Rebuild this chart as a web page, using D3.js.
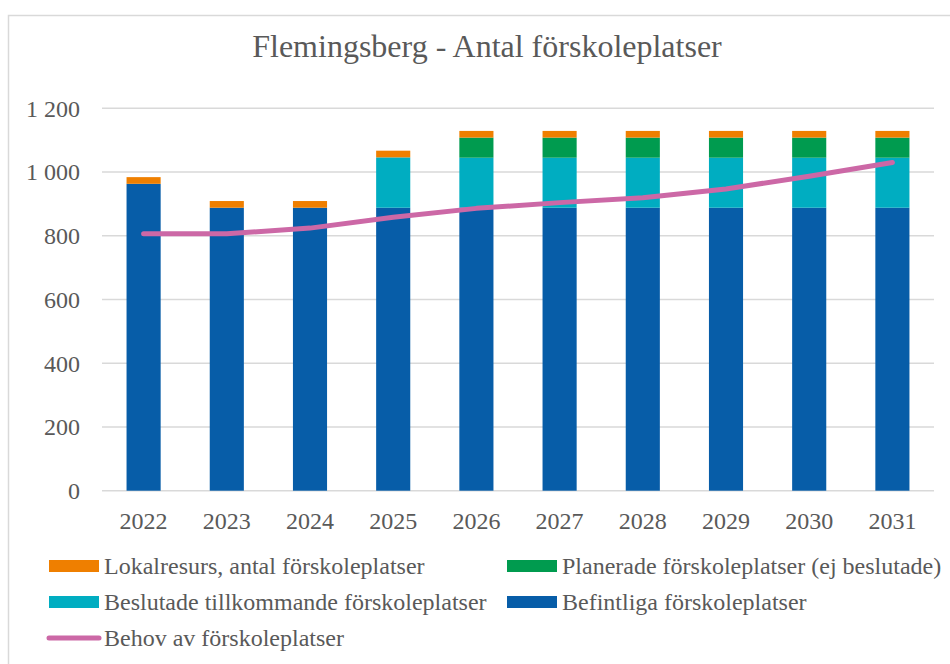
<!DOCTYPE html>
<html><head><meta charset="utf-8">
<script src="https://cdn.jsdelivr.net/npm/d3@7"></script>
<style>body{margin:0;background:#fff}svg{display:block}</style>
</head><body><svg id="c" width="950" height="664"></svg>
<script>
const years = ["2022","2023","2024","2025","2026","2027","2028","2029","2030","2031"];
const befintliga = [963, 888, 888, 888, 888, 888, 888, 888, 888, 888];
const beslutade = [0, 0, 0, 158, 157, 157, 157, 157, 157, 157];
const planerade = [0, 0, 0, 0, 63, 63, 63, 63, 63, 63];
const lokalresurs = [21, 21, 21, 21, 21, 21, 21, 21, 21, 21];
const behov = [806, 806, 824, 858, 886, 904, 919, 947, 987, 1030];
const yTicks = [0, 200, 400, 600, 800, 1000, 1200];

const seriesNames = ["Befintliga förskoleplatser","Beslutade tillkommande förskoleplatser","Planerade förskoleplatser (ej beslutade)","Lokalresurs, antal förskoleplatser"];
const seriesVals = [befintliga, beslutade, planerade, lokalresurs];
const colors = ["#075DA8","#00ADC1","#009B4F","#EF7F00"];
const lineColor = "#CC68A6";
const font = "'Liberation Serif','Times New Roman',serif";
const txt = "#595959";

const svg = d3.select("#c");
// frame
svg.append("rect").attr("x",8.5).attr("y",15.5).attr("width",960).attr("height",700)
  .attr("fill","#fff").attr("stroke","#d9d9d9").attr("stroke-width",1.5);

const x = d3.scaleBand().domain(years).range([102,934]).paddingInner(0.59).paddingOuter(0.295);
const y = d3.scaleLinear().domain([0,1200]).range([490.7,108.3]);

// gridlines
svg.append("g").selectAll("line").data(yTicks).join("line")
  .attr("x1",102).attr("x2",934).attr("y1",d=>y(d)).attr("y2",d=>y(d))
  .attr("stroke","#d9d9d9").attr("stroke-width",1.5);

// y labels
const fmt = d => d3.format(",")(d).replace(/,/g," ");
svg.append("g").selectAll("text").data(yTicks).join("text")
  .attr("x",80).attr("y",d=>y(d)).attr("dy","0.35em").attr("text-anchor","end")
  .attr("font-family",font).attr("font-size",24).attr("fill",txt).text(fmt);

// x labels
svg.append("g").selectAll("text").data(years).join("text")
  .attr("x",d=>x(d)+x.bandwidth()/2).attr("y",529).attr("text-anchor","middle")
  .attr("font-family",font).attr("font-size",24).attr("fill",txt).text(d=>d);

// stacked bars
const rows = years.map((yr,i)=>{const o={year:yr}; seriesNames.forEach((s,k)=>o[s]=seriesVals[k][i]); return o;});
const stack = d3.stack().keys(seriesNames)(rows);
svg.append("g").selectAll("g").data(stack).join("g").attr("fill",(d,i)=>colors[i])
  .selectAll("rect").data(d=>d).join("rect")
  .attr("x",d=>x(d.data.year)).attr("width",x.bandwidth())
  .attr("y",d=>y(d[1])).attr("height",d=>Math.max(0,y(d[0])-y(d[1])));

// line
const line = d3.line().x((d,i)=>x(years[i])+x.bandwidth()/2).y(d=>y(d));
svg.append("path").datum(behov).attr("d",line).attr("fill","none")
  .attr("stroke",lineColor).attr("stroke-width",5).attr("stroke-linecap","round").attr("stroke-linejoin","round");

// title
svg.append("text").attr("x",487).attr("y",57).attr("text-anchor","middle")
  .attr("font-family",font).attr("font-size",32).attr("fill",txt).text("Flemingsberg - Antal förskoleplatser");

// legend
const legend = [
  {name:"Lokalresurs, antal förskoleplatser", c:colors[3], x:49, y:566, t:"rect"},
  {name:"Planerade förskoleplatser (ej beslutade)", c:colors[2], x:507, y:566, t:"rect"},
  {name:"Beslutade tillkommande förskoleplatser", c:colors[1], x:49, y:602, t:"rect"},
  {name:"Befintliga förskoleplatser", c:colors[0], x:507, y:602, t:"rect"},
  {name:"Behov av förskoleplatser", c:lineColor, x:49, y:638, t:"line"}
];
const lg = svg.append("g").selectAll("g").data(legend).join("g");
lg.filter(d=>d.t==="rect").append("rect").attr("x",d=>d.x).attr("y",d=>d.y-6).attr("width",50).attr("height",12).attr("fill",d=>d.c);
lg.filter(d=>d.t==="line").append("line").attr("x1",d=>d.x).attr("x2",d=>d.x+50).attr("y1",d=>d.y).attr("y2",d=>d.y)
  .attr("stroke",d=>d.c).attr("stroke-width",5).attr("stroke-linecap","round");
lg.append("text").attr("x",d=>d.x+55).attr("y",d=>d.y).attr("dy","0.35em")
  .attr("font-family",font).attr("font-size",24).attr("fill",txt).text(d=>d.name);
</script></body></html>
